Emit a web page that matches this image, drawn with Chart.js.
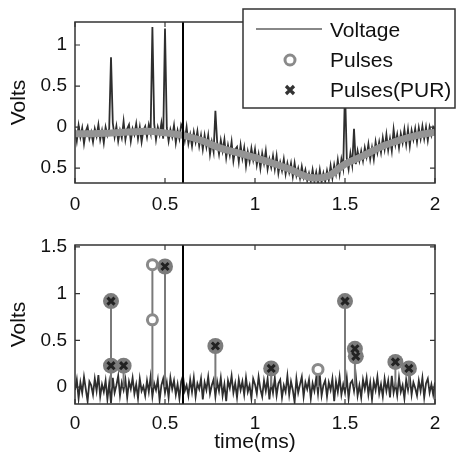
<!DOCTYPE html>
<html><head><meta charset="utf-8">
<script src="https://cdn.jsdelivr.net/npm/chart.js@4"></script>
<style>
html,body{margin:0;padding:0;background:#fff;}
#top{position:absolute;left:0;top:0;width:457px;height:220px;}
#bot{position:absolute;left:0;top:220px;width:457px;height:241px;}
</style></head><body>
<div id="top"><canvas id="c1" width="457" height="220"></canvas></div>
<div id="bot"><canvas id="c2" width="457" height="241"></canvas></div>
<script>
// ---- data ----
const sampleStep = 0.01; // ms between samples
const topVoltage = [
-0.03,-0.17,0.02,-0.12,-0.01,-0.2,-0.05,0.01,-0.14,-0.06,
-0.18,-0.02,-0.11,0.03,-0.15,-0.04,-0.19,0.0,-0.1,-0.02,
0.85,0.05,-0.12,0.01,-0.17,-0.04,-0.13,0.07,-0.15,-0.02,
0.03,-0.17,-0.02,-0.09,0.04,-0.14,0.0,-0.18,-0.04,0.01,
-0.12,0.03,-0.07,1.22,0.04,-0.15,0.0,-0.09,0.05,-0.14,
1.2,-0.01,-0.17,-0.03,-0.12,0.02,-0.19,-0.04,-0.14,0.03,
-0.02,-0.16,0.0,-0.2,-0.09,-0.23,-0.06,-0.18,-0.05,-0.23,
-0.1,-0.27,-0.1,-0.24,-0.1,-0.33,-0.18,-0.3,0.2,-0.19,
-0.33,-0.16,-0.29,-0.15,-0.37,-0.22,-0.34,-0.18,-0.41,-0.27,
-0.24,-0.42,-0.22,-0.38,-0.25,-0.47,-0.3,-0.42,-0.26,-0.4,
-0.27,-0.46,-0.33,-0.5,-0.32,-0.44,-0.29,-0.51,-0.39,-0.49,
-0.35,-0.51,-0.35,-0.56,-0.43,-0.53,-0.39,-0.57,-0.44,-0.55,
-0.44,-0.6,-0.44,-0.59,-0.5,-0.62,-0.48,-0.61,-0.52,-0.65,
-0.56,-0.66,-0.52,-0.66,-0.55,-0.68,-0.52,-0.67,-0.56,-0.66,
-0.53,-0.64,-0.47,-0.62,-0.46,-0.57,-0.4,-0.57,-0.39,-0.5,
0.47,-0.38,-0.51,-0.32,-0.46,-0.02,-0.45,-0.29,-0.41,-0.29,
-0.41,-0.25,-0.36,-0.21,-0.39,-0.25,-0.39,-0.18,-0.31,-0.18,
-0.31,-0.13,-0.27,-0.09,-0.28,-0.14,-0.29,-0.03,-0.21,-0.09,
-0.25,-0.08,-0.19,-0.03,-0.21,-0.03,-0.23,-0.04,-0.15,-0.02,
-0.18,-0.01,-0.14,0.01,-0.14,0.0,-0.16,0.0,-0.1,0.0,
-0.04];
const baselineStep = 0.1;
const baseline = [-0.08,-0.08,-0.07,-0.06,-0.05,-0.07,-0.1,-0.16,-0.25,-0.31,-0.37,-0.44,-0.52,-0.61,-0.6,-0.45,-0.35,-0.24,-0.16,-0.1,-0.06];
const bottomVoltage = [
-0.03,0.08,-0.12,0.05,-0.06,0.11,-0.02,-0.15,0.06,0.02,
-0.08,0.09,-0.04,0.13,-0.1,0.03,-0.05,0.07,-0.13,0.04,
-0.17,0.1,-0.06,0.02,0.12,-0.09,0.05,-0.03,0.08,-0.11,
0.06,-0.02,0.1,-0.07,0.03,-0.12,0.09,-0.04,0.01,-0.09,
0.07,-0.05,0.11,-0.1,0.04,-0.03,0.08,-0.14,0.02,0.09,
-0.06,0.05,-0.11,0.1,-0.02,0.07,-0.08,0.03,-0.12,0.06,
0.12,-0.04,0.02,-0.09,0.08,-0.05,0.1,-0.1,0.04,-0.02,
0.09,-0.13,0.05,-0.03,0.11,-0.07,0.02,0.08,-0.1,0.06,
-0.04,0.1,-0.09,0.03,-0.15,0.07,-0.01,0.12,-0.06,0.04,
-0.11,0.08,-0.03,0.06,-0.08,0.1,-0.05,0.02,-0.12,0.09,
0.03,-0.07,0.11,-0.02,-0.1,0.07,-0.04,0.09,-0.13,0.05,
-0.06,0.1,-0.09,0.04,0.08,-0.11,0.02,-0.05,0.12,-0.08,
0.06,-0.03,-0.16,0.09,-0.06,0.03,0.11,-0.1,0.05,-0.02,
0.08,-0.12,0.04,-0.04,0.1,-0.07,0.13,-0.09,0.02,0.07,
-0.1,0.05,-0.03,0.09,-0.15,0.06,-0.05,0.11,-0.08,0.03,
-0.06,0.1,-0.12,0.04,0.07,-0.04,0.12,-0.09,0.02,-0.11,
0.08,-0.02,0.1,-0.08,0.05,-0.13,0.06,-0.03,0.11,-0.07,
0.03,-0.1,0.09,-0.04,0.07,-0.11,0.12,-0.06,0.04,-0.09,
0.1,-0.05,0.02,-0.12,0.08,-0.03,0.11,-0.08,0.05,-0.01,
-0.09,0.07,-0.04,0.1,-0.11,0.04,0.09,-0.06,0.03,-0.08,
0.05];
const stemTimes   = [0.2, 0.27, 0.43, 0.5, 0.78, 1.09, 1.35, 1.5, 1.555, 1.78, 1.855];
const stemHeights = [0.92, 0.23, 1.31, 1.29, 0.44, 0.2, 0.19, 0.92, 0.41, 0.27, 0.2];
const purTimes  = [0.2, 0.2, 0.27, 0.5, 0.78, 1.09, 1.5, 1.555, 1.56, 1.78, 1.855];
const purValues = [0.92, 0.23, 0.23, 1.29, 0.44, 0.2, 0.92, 0.41, 0.33, 0.27, 0.2];
const pulseTimes  = [0.43, 0.43, 1.35];
const pulseValues = [1.31, 0.72, 0.19];
const markerTime = 0.6;
const xTicks = [0, 0.5, 1, 1.5, 2];
const topYTicks = [-0.5, 0, 0.5, 1];
const topYTickLabels = ['0.5', '0', '0.5', '1'];
const botYTicks = [0, 0.5, 1, 1.5];
const botYTickLabels = ['0', '0.5', '1', '1.5'];
const legendLabels = ['Voltage', 'Pulses', 'Pulses(PUR)'];

// ---- rendering ----
const FONT = "'Liberation Sans', Arial, sans-serif";
Chart.defaults.font.family = FONT;
Chart.defaults.color = '#111';

const series = (arr, step) => arr.map((v, i) => ({x: i * step, y: v}));
const pts = (xs, ys) => xs.map((t, i) => ({x: t, y: ys[i]}));

const framePlugin = {
  id: 'frame',
  afterDatasetsDraw(chart) {
    const {ctx, chartArea: a, scales: {x, y}} = chart;
    ctx.save();
    const mx = x.getPixelForValue(markerTime);
    ctx.strokeStyle = '#000'; ctx.lineWidth = 2;
    ctx.beginPath(); ctx.moveTo(mx, a.top); ctx.lineTo(mx, a.bottom); ctx.stroke();
    ctx.strokeStyle = '#333'; ctx.lineWidth = 1.5;
    ctx.strokeRect(a.left, a.top, a.right - a.left, a.bottom - a.top);
    ctx.lineWidth = 1.2;
    const L = 5;
    ctx.beginPath();
    x.ticks.forEach(t => { const p = x.getPixelForValue(t.value);
      ctx.moveTo(p, a.bottom); ctx.lineTo(p, a.bottom - L);
      ctx.moveTo(p, a.top); ctx.lineTo(p, a.top + L); });
    y.ticks.forEach(t => { const p = y.getPixelForValue(t.value);
      ctx.moveTo(a.left, p); ctx.lineTo(a.left + L, p);
      ctx.moveTo(a.right, p); ctx.lineTo(a.right - L, p); });
    ctx.stroke();
    ctx.restore();
  }
};

const legendPlugin = {
  id: 'legendBox',
  afterDraw(chart) {
    const {ctx, chartArea: a} = chart;
    const lx = a.left + 168, ly = a.top - 13, lw = 212, lh = 99;
    ctx.save();
    ctx.fillStyle = '#fff'; ctx.fillRect(lx, ly, lw, lh);
    ctx.strokeStyle = '#333'; ctx.lineWidth = 1.5; ctx.strokeRect(lx, ly, lw, lh);
    const rows = [ly + 21, ly + 51, ly + 81];
    ctx.strokeStyle = '#888'; ctx.lineWidth = 2;
    ctx.beginPath(); ctx.moveTo(lx + 13, rows[0] - 1); ctx.lineTo(lx + 79, rows[0] - 1); ctx.stroke();
    ctx.strokeStyle = '#8a8a8a'; ctx.lineWidth = 3;
    ctx.beginPath(); ctx.arc(lx + 47, rows[1], 5, 0, Math.PI * 2); ctx.stroke();
    ctx.strokeStyle = '#333'; ctx.lineWidth = 3.2;
    const cx = lx + 47, cy = rows[2], r = 4;
    ctx.beginPath(); ctx.moveTo(cx - r, cy - r); ctx.lineTo(cx + r, cy + r);
    ctx.moveTo(cx + r, cy - r); ctx.lineTo(cx - r, cy + r); ctx.stroke();
    ctx.fillStyle = '#111'; ctx.font = '21px ' + FONT; ctx.textBaseline = 'middle';
    legendLabels.forEach((s, i) => ctx.fillText(s, lx + 87, rows[i] + 1));
    ctx.restore();
  }
};

function xScale(pad, withTitle, h) {
  return {
    type: 'linear', min: 0, max: 2,
    afterBuildTicks: s => { s.ticks = xTicks.map(v => ({value: v})); },
    afterFit: s => { s.height = h; },
    grid: {display: false, drawTicks: false}, border: {display: false},
    ticks: {font: {size: 19}, padding: pad, color: '#111', callback: v => String(v), maxRotation: 0},
    title: withTitle ? {display: true, text: 'time(ms)', font: {size: 21}, color: '#111', padding: {top: 0, bottom: 6}} : {display: false}
  };
}
function yScale(min, max, ticks, labels) {
  return {
    type: 'linear', min, max,
    afterBuildTicks: s => { s.ticks = ticks.map(v => ({value: v})); },
    afterFit: s => { s.width = 75; },
    grid: {display: false, drawTicks: false}, border: {display: false},
    ticks: {font: {size: 19}, padding: 8, color: '#111', callback: v => labels[ticks.indexOf(v)]},
    title: {display: true, text: 'Volts', font: {size: 21}, color: '#111', padding: {top: 7, bottom: 0}}
  };
}
const common = {
  responsive: false, animation: false, devicePixelRatio: 1,
  plugins: {legend: {display: false}, tooltip: {enabled: false}},
  elements: {line: {tension: 0}}
};

new Chart(document.getElementById('c1'), {
  type: 'scatter',
  data: {datasets: [
    {label: 'baseline', data: series(baseline, baselineStep), showLine: true, borderColor: '#949494', borderWidth: 7, pointRadius: 0, tension: 0.4, order: 1},
    {label: 'Voltage', data: series(topVoltage, sampleStep), showLine: true, borderColor: '#2e2e2e', borderWidth: 1.8, pointRadius: 0, order: 2}
  ]},
  options: Object.assign({}, common, {
    layout: {padding: {left: 0, right: 22, top: 22, bottom: 0}},
    scales: {x: xScale(10, false, 37), y: yScale(-0.68, 1.28, topYTicks, topYTickLabels)}
  }),
  plugins: [framePlugin, legendPlugin]
});

new Chart(document.getElementById('c2'), {
  type: 'scatter',
  data: {datasets: [
    {label: 'Voltage', data: series(bottomVoltage, sampleStep), showLine: true, borderColor: '#2e2e2e', borderWidth: 1.8, pointRadius: 0, order: 5},
    {label: 'stems', data: stemTimes.flatMap((t, i) => [{x: t, y: 0}, {x: t, y: stemHeights[i]}, {x: t, y: null}]), showLine: true, spanGaps: false, borderColor: '#7a7a7a', borderWidth: 2, pointRadius: 0, order: 4},
    {label: 'PURdisc', data: pts(purTimes, purValues), pointStyle: 'circle', pointRadius: 8, backgroundColor: '#7c7c7c', borderWidth: 0, order: 3},
    {label: 'Pulses', data: pts(pulseTimes, pulseValues), pointStyle: 'circle', pointRadius: 5, backgroundColor: '#fff', borderColor: '#8a8a8a', borderWidth: 3, order: 2},
    {label: 'Pulses(PUR)', data: pts(purTimes, purValues), pointStyle: 'crossRot', pointRadius: 5, borderColor: '#222', borderWidth: 3, order: 1}
  ]},
  options: Object.assign({}, common, {
    layout: {padding: {left: 0, right: 22, top: 25, bottom: 0}},
    scales: {x: xScale(8, true, 57), y: yScale(-0.18, 1.52, botYTicks, botYTickLabels)}
  }),
  plugins: [framePlugin]
});
</script>
</body></html>
